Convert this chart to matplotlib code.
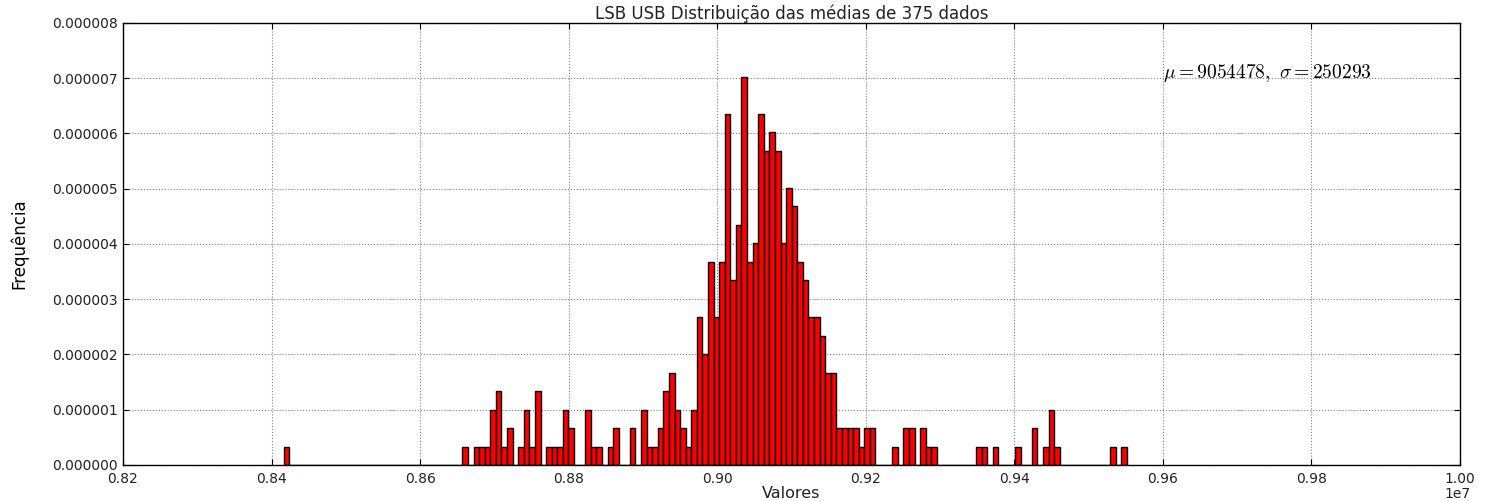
import numpy as np
import matplotlib
matplotlib.use('Agg')
import matplotlib.pyplot as plt
from matplotlib.ticker import FormatStrFormatter

# histogram of the sample means: 151 equal bins between the smallest and largest mean
hist_min = 8.4164e6
hist_max = 9.5513e6
counts = [
    1, 0, 0, 0, 0, 0, 0, 0, 0, 0,
    0, 0, 0, 0, 0, 0, 0, 0, 0, 0,
    0, 0, 0, 0, 0, 0, 0, 0, 0, 0,
    0, 0, 1, 0, 1, 1, 1, 3, 4, 1,
    2, 0, 1, 3, 1, 4, 0, 1, 1, 1,
    3, 2, 0, 0, 3, 1, 1, 0, 1, 2,
    0, 0, 2, 0, 3, 1, 1, 2, 4, 5,
    3, 2, 1, 3, 8, 6, 11, 8, 11, 19,
    10, 13, 21, 11, 12, 19, 17, 18, 17, 12,
    15, 14, 11, 10, 8, 8, 7, 5, 5, 2,
    2, 2, 2, 1, 2, 2, 0, 0, 0, 1,
    0, 2, 2, 0, 2, 1, 1, 0, 0, 0,
    0, 0, 0, 0, 1, 1, 0, 1, 0, 0,
    0, 1, 0, 0, 2, 0, 1, 3, 1, 0,
    0, 0, 0, 0, 0, 0, 0, 0, 1, 0,
    1,
]
mu = 9054478
sigma = 250293

plt.rcParams['mathtext.fontset'] = 'cm'
plt.rcParams['font.family'] = 'DejaVu Sans'

edges = np.linspace(hist_min, hist_max, len(counts) + 1)
centers = 0.5 * (edges[:-1] + edges[1:])

fig = plt.figure(figsize=(14.89, 5.01), dpi=100)
ax = fig.add_axes([0.0826, 0.0719, 0.8979, 0.8823])

ax.hist(centers, bins=edges, weights=counts, density=True,
        facecolor='#ff0000', edgecolor='black', linewidth=1.0)

ax.set_xlim(0.82e7, 1.00e7)
ax.set_ylim(0, 0.000008)
ax.set_xticks(np.arange(0.82e7, 1.0001e7, 0.02e7))
ax.set_yticks(np.arange(0, 0.0000081, 0.000001))
ax.yaxis.set_major_formatter(FormatStrFormatter('%.6f'))

ax.grid(True, linestyle=':', color='#808080', linewidth=0.8)
ax.set_axisbelow(True)
ax.tick_params(direction='in', length=4, top=True, right=True, labelsize=10,
               colors='black', labelcolor='#222222')
ax.tick_params(axis='x', pad=5)
for s in ax.spines.values():
    s.set_linewidth(1.0)

# scale factor of the x axis, placed just under the last tick label
ax.xaxis.get_offset_text().set_visible(False)
ax.annotate('1e7', xy=(1, 0), xycoords='axes fraction', xytext=(-2, -21),
            textcoords='offset points', ha='center', va='center',
            fontsize=10, color='#222222')

ax.text(0.96e7, 0.000007, r'$\mu=%d,\ \sigma=%d$' % (mu, sigma), fontsize=14)

ax.set_title('LSB USB Distribuição das médias de 375 dados', fontsize=12, pad=3,
             color='#222222')
ax.set_xlabel('Valores', fontsize=11.5, labelpad=0, color='#222222')
ax.set_ylabel('Frequência', fontsize=12,
              family=['Liberation Sans Narrow', 'DejaVu Sans'])
ax.yaxis.set_label_coords(-0.071, 0.5)

fig.savefig('out.png', dpi=100, facecolor='white')
